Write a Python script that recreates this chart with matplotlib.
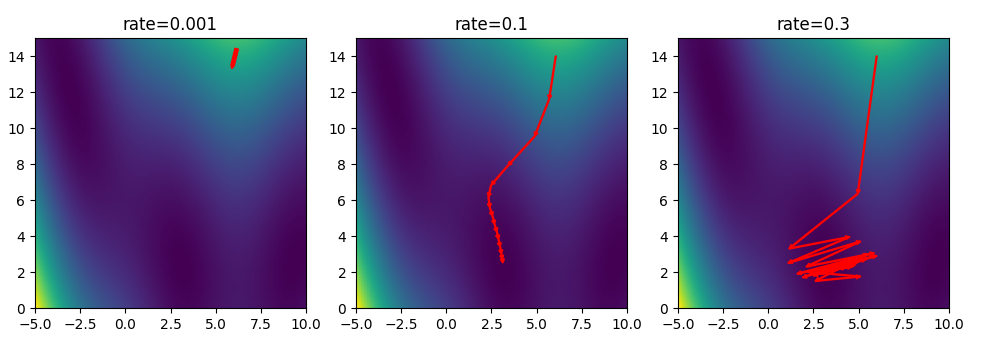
import numpy as np
import matplotlib.pyplot as plt

# Branin surface on the usual domain
x_lo, x_hi = -5.0, 10.0
y_lo, y_hi = 0.0, 15.0

def branin(x, y):
    b = 5.1 / (4 * np.pi ** 2)
    c = 5 / np.pi
    s = 10 * (1 - 1 / (8 * np.pi))
    return (y - b * x ** 2 + c * x - 6) ** 2 + s * np.cos(x) + 10

rates = [0.001, 0.1, 0.3]

# descent paths for each learning rate
path_x = [
    [6.13, 6.11, 6.09, 6.07, 6.05, 6.03, 6.01, 5.99, 5.97, 5.95, 5.93, 5.91, 5.89],
    [6.06, 5.69, 4.89, 3.41, 2.48, 2.33, 2.41, 2.56, 2.67, 2.80, 2.89, 2.98, 3.05, 3.10, 3.13],
    [6.0, 4.95, 1.15, 4.5, 1.1, 5.1, 2.1, 5.85, 1.6, 6.0, 1.9, 5.5, 2.6, 5.1, 2.2,
     5.4, 2.5, 5.0, 2.8, 4.8, 3.0, 4.6, 3.2, 4.3, 3.5],
]
path_y = [
    [14.28, 14.19, 14.11, 14.02, 13.94, 13.86, 13.78, 13.70, 13.62, 13.54, 13.46, 13.38, 13.30],
    [14.0, 11.6, 9.54, 7.91, 6.83, 6.16, 5.57, 5.11, 4.65, 4.22, 3.82, 3.40, 3.00, 2.70, 2.50],
    [14.0, 6.35, 3.3, 3.95, 2.5, 3.7, 2.3, 3.05, 1.9, 2.9, 1.7, 3.0, 1.5, 1.75, 2.0,
     2.7, 1.8, 2.6, 1.9, 2.4, 2.0, 2.3, 2.1, 2.25, 2.15],
]

gx, gy = np.meshgrid(np.linspace(x_lo, x_hi, 100), np.linspace(y_lo, y_hi, 100))
Z = branin(gx, gy)

fig = plt.figure(figsize=(9.83, 3.47), dpi=100)
lefts = [35, 356, 678]
for i in range(3):
    ax = fig.add_axes([lefts[i] / 983, 39 / 347, 271 / 983, 270 / 347])
    ax.imshow(Z, origin='lower', extent=[x_lo, x_hi, y_lo, y_hi], cmap='viridis', aspect='auto')
    px, py = path_x[i], path_y[i]
    for k in range(len(px) - 1):
        ax.arrow(px[k], py[k], px[k + 1] - px[k], py[k + 1] - py[k],
                 width=0.05, head_width=0.22, head_length=0.22,
                 length_includes_head=True, color='red')
    ax.set_xlim(x_lo, x_hi)
    ax.set_ylim(y_lo, y_hi)
    ax.set_title('rate=%s' % rates[i])

plt.savefig('out.png', dpi=100)
